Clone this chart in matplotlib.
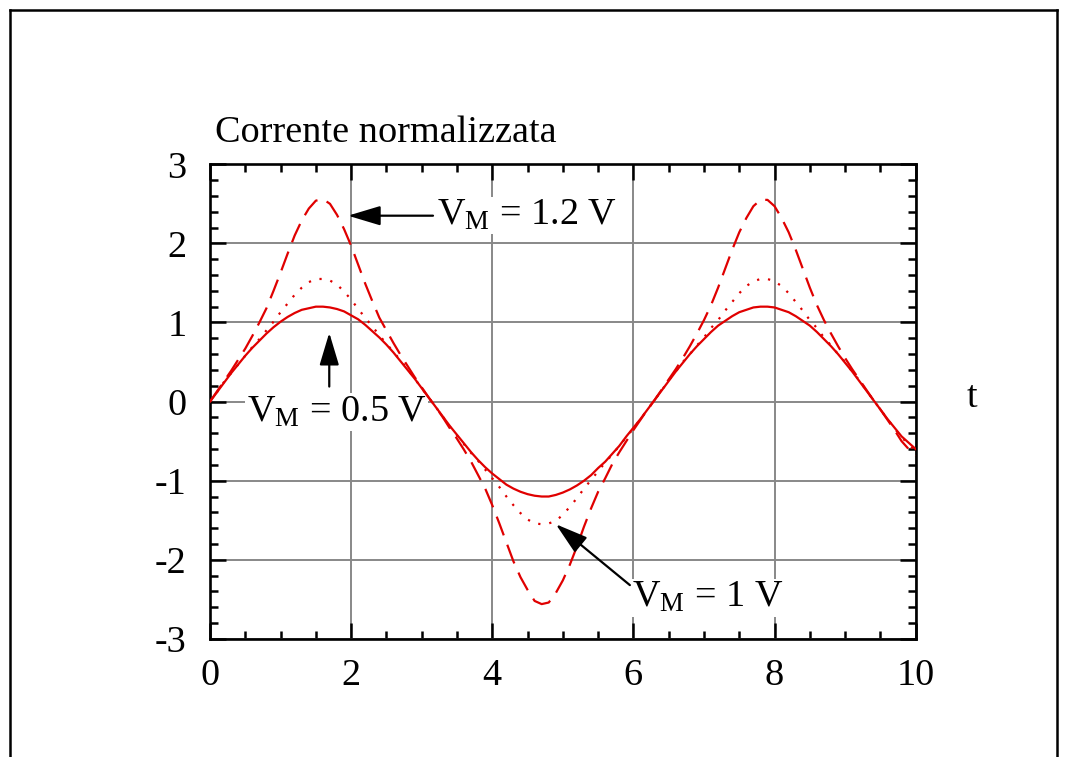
import matplotlib.pyplot as plt
from matplotlib.lines import Line2D
from matplotlib.ticker import MultipleLocator

plt.rcParams['font.family'] = ['Liberation Serif', 'DejaVu Serif']
plt.rcParams['mathtext.fontset'] = 'custom'
plt.rcParams['mathtext.rm'] = 'Liberation Serif'
plt.rcParams['mathtext.it'] = 'Liberation Serif:italic'
plt.rcParams['axes.unicode_minus'] = False

# tempo (passo 0.1) e correnti normalizzate
t = [round(0.1 * k, 1) for k in range(101)]

i_05 = [0.00, 0.12, 0.24, 0.36, 0.47, 0.58, 0.68, 0.77, 0.86, 0.94,
        1.01, 1.07, 1.12, 1.16, 1.18, 1.20, 1.20, 1.19, 1.17, 1.14,
        1.09, 1.04, 0.97, 0.89, 0.81, 0.72, 0.62, 0.51, 0.40, 0.29,
        0.17, 0.05, -0.07, -0.19, -0.31, -0.42, -0.53, -0.64, -0.74, -0.83,
        -0.91, -0.98, -1.05, -1.10, -1.14, -1.17, -1.19, -1.20, -1.20, -1.18,
        -1.15, -1.11, -1.06, -1.00, -0.93, -0.84, -0.76, -0.66, -0.56, -0.44,
        -0.33, -0.22, -0.10, 0.02, 0.14, 0.26, 0.38, 0.49, 0.60, 0.70,
        0.79, 0.88, 0.96, 1.02, 1.08, 1.13, 1.16, 1.19, 1.20, 1.20,
        1.19, 1.16, 1.13, 1.08, 1.02, 0.96, 0.88, 0.79, 0.70, 0.60,
        0.49, 0.38, 0.26, 0.14, 0.02, -0.10, -0.22, -0.33, -0.44, -0.52,
        -0.60]

i_1 = [0.00, 0.12, 0.25, 0.36, 0.47, 0.58, 0.69, 0.79, 0.90, 1.01,
       1.13, 1.24, 1.35, 1.44, 1.51, 1.55, 1.55, 1.53, 1.48, 1.39,
       1.29, 1.17, 1.06, 0.95, 0.84, 0.73, 0.63, 0.52, 0.41, 0.29,
       0.17, 0.05, -0.07, -0.19, -0.32, -0.43, -0.54, -0.65, -0.75, -0.86,
       -0.97, -1.08, -1.20, -1.31, -1.41, -1.49, -1.54, -1.55, -1.54, -1.51,
       -1.43, -1.33, -1.22, -1.10, -0.99, -0.88, -0.77, -0.67, -0.56, -0.45,
       -0.34, -0.22, -0.10, 0.02, 0.14, 0.27, 0.38, 0.50, 0.60, 0.71,
       0.81, 0.93, 1.03, 1.15, 1.26, 1.37, 1.46, 1.52, 1.55, 1.55,
       1.52, 1.46, 1.37, 1.26, 1.15, 1.03, 0.93, 0.81, 0.71, 0.60,
       0.50, 0.38, 0.27, 0.14, 0.02, -0.10, -0.22, -0.34, -0.45, -0.54,
       -0.63]

i_12 = [0.00, 0.13, 0.26, 0.39, 0.53, 0.67, 0.83, 1.00, 1.18, 1.40,
        1.63, 1.87, 2.10, 2.29, 2.44, 2.54, 2.56, 2.50, 2.36, 2.18,
        1.97, 1.73, 1.49, 1.27, 1.06, 0.90, 0.74, 0.59, 0.45, 0.31,
        0.18, 0.05, -0.07, -0.20, -0.34, -0.47, -0.61, -0.76, -0.93, -1.10,
        -1.31, -1.54, -1.78, -2.02, -2.22, -2.38, -2.52, -2.56, -2.54, -2.42,
        -2.26, -2.06, -1.83, -1.58, -1.35, -1.14, -0.97, -0.79, -0.64, -0.50,
        -0.36, -0.23, -0.10, 0.02, 0.15, 0.28, 0.41, 0.55, 0.70, 0.86,
        1.03, 1.22, 1.44, 1.68, 1.92, 2.14, 2.32, 2.47, 2.55, 2.55,
        2.47, 2.32, 2.14, 1.92, 1.68, 1.44, 1.22, 1.03, 0.86, 0.70,
        0.55, 0.41, 0.28, 0.15, 0.02, -0.10, -0.23, -0.36, -0.50, -0.60,
        -0.68]

rosso = '#e00000'
fs = 27.5

fig = plt.figure(figsize=(10.66, 7.57), dpi=100)
ax = fig.add_axes([0.197, 0.156, 0.662, 0.627])

ax.plot(t, i_05, color=rosso, lw=1.6, ls='-', zorder=3)
ax.plot(t, i_1, color=rosso, lw=1.6, ls=(0, (1, 4)), zorder=3)
ax.plot(t, i_12, color=rosso, lw=1.6, ls=(0, (9, 4.5)), zorder=3)

ax.set_xlim(0, 10)
ax.set_ylim(-3, 3)
ax.xaxis.set_major_locator(MultipleLocator(2))
ax.xaxis.set_minor_locator(MultipleLocator(0.5))
ax.yaxis.set_major_locator(MultipleLocator(1))
ax.yaxis.set_minor_locator(MultipleLocator(0.2))
ax.tick_params(which='both', direction='in', top=True, right=True,
               width=1.8, labelsize=fs, color='black')
ax.tick_params(which='major', length=11.5, pad=14)
ax.tick_params(which='minor', length=5.8)
ax.tick_params(axis='y', which='major', pad=17)
for s in ax.spines.values():
    s.set_linewidth(1.9)
ax.grid(True, which='major', color='#888888', lw=1.4, zorder=1)
ax.set_axisbelow(True)

# frecce e etichette
freccia = dict(arrowstyle='-|>,head_length=2.0,head_width=0.6', color='black', lw=1.6,
               shrinkA=0, shrinkB=0)
ax.annotate('', xy=(1.955, 2.35), xytext=(3.16, 2.35), arrowprops=freccia, zorder=4)
ax.annotate('', xy=(1.69, 0.87), xytext=(1.69, 0.19), arrowprops=freccia, zorder=4)
ax.annotate('', xy=(4.90, -1.55), xytext=(5.95, -2.32), arrowprops=freccia, zorder=4)

bianco = dict(facecolor='white', edgecolor='none', pad=1)
ax.text(3.22, 2.35, r'V$_\mathrm{M}$ = 1.2 V', fontsize=fs, va='center', ha='left', bbox=bianco, zorder=2)
ax.text(0.52, -0.13, r'V$_\mathrm{M}$ = 0.5 V', fontsize=fs, va='center', ha='left', bbox=bianco, zorder=2)
ax.text(5.98, -2.48, r'V$_\mathrm{M}$ = 1 V', fontsize=fs, va='center', ha='left', bbox=bianco, zorder=2)

fig.text(0.202, 0.824, 'Corrente normalizzata', fontsize=fs, va='center', ha='left')
fig.text(0.912, 0.474, 't', fontsize=fs, va='center', ha='center')

# cornice della figura
fig.add_artist(Line2D([0.009, 0.009], [0.0, 0.987], transform=fig.transFigure, color='black', lw=1.8))
fig.add_artist(Line2D([0.009, 0.992], [0.987, 0.987], transform=fig.transFigure, color='black', lw=1.8))
fig.add_artist(Line2D([0.992, 0.992], [0.0, 0.987], transform=fig.transFigure, color='black', lw=1.8))

fig.savefig('out.png', dpi=100)
